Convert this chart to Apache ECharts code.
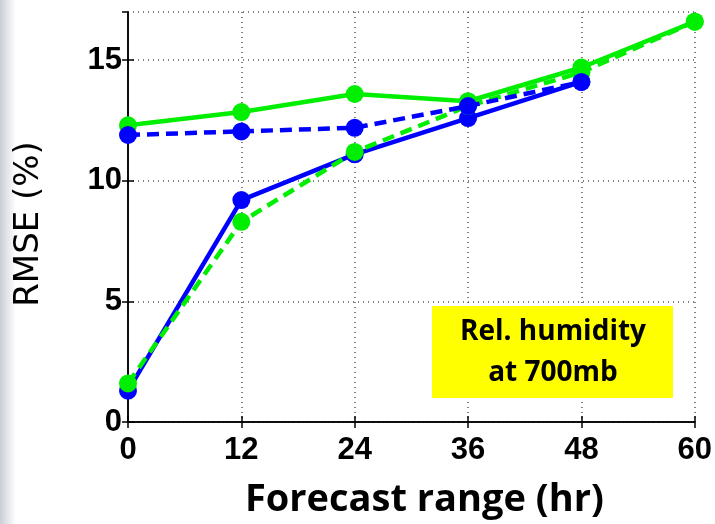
<!DOCTYPE html>
<html>
<head>
<meta charset="utf-8">
<script src="https://cdn.jsdelivr.net/npm/echarts@6/dist/echarts.min.js"></script>
<style>
html,body{margin:0;padding:0;background:#fff;}
#c{width:715px;height:524px;}
</style>
</head>
<body>
<div id="c"></div>
<script>
var hours = [0, 12, 24, 36, 48, 60];
var xTicks = ['0', '12', '24', '36', '48', '60'];
var yTicks = [0, 5, 10, 15];
var blueSolid = [1.3, 9.2, 11.1, 12.6, 14.1];
var greenDashed = [1.6, 8.3, 11.2, 13.1, 14.5, 16.6];
var greenSolid = [12.3, 12.85, 13.6, 13.3, 14.7, 16.6];
var blueDashed = [11.9, 12.05, 12.2, 13.1, 14.1];
var boxLines = ['Rel. humidity', 'at 700mb'];

function pairs(vals) {
  return vals.map(function (v, i) { return [hours[i], v]; });
}

var chart = echarts.init(document.getElementById('c'));
var tickFont = { fontFamily: 'Liberation Sans', fontWeight: 'bold', fontSize: 31, color: '#000' };

function mkSeries(name, vals, color, dashed, z) {
  return {
    name: name, type: 'line', data: pairs(vals), z: z,
    symbol: 'circle', symbolSize: 18,
    itemStyle: { color: color },
    lineStyle: { color: color, width: 4.5, type: dashed ? [12, 7] : 'solid' },
    emphasis: { disabled: true },
    animation: false
  };
}

chart.setOption({
  animation: false,
  backgroundColor: '#fff',
  graphic: [
    { type: 'rect', z: -10, shape: { x: 0, y: 0, width: 16, height: 524 },
      style: { fill: new echarts.graphic.LinearGradient(0, 0, 1, 0, [
        { offset: 0, color: '#c9ced6' }, { offset: 1, color: '#ffffff' }]) } },
    { type: 'rect', z: 100, shape: { x: 432, y: 306, width: 241, height: 92 }, style: { fill: '#ffff00' } },
    { type: 'text', z: 101, style: { x: 553, y: 353, text: boxLines.join('\n'), align: 'center', verticalAlign: 'middle',
        fontFamily: 'Open Sans', fontWeight: 'bold', fontSize: 28, lineHeight: 41, fill: '#000' } }
  ],
  grid: { left: 128, right: 20, top: 12, bottom: 101 },
  xAxis: [{
    type: 'value', min: 0, max: 60, interval: 12,
    name: 'Forecast range (hr)', nameLocation: 'middle', nameGap: 59,
    nameTextStyle: { fontFamily: 'Open Sans', fontWeight: 'bold', fontSize: 38, color: '#000', padding: [0, 0, 0, 26] },
    axisLine: { show: true, onZero: false, lineStyle: { color: '#000', width: 1.5 } },
    axisTick: { show: true, inside: true, length: 6, lineStyle: { color: '#000', width: 1.5 } },
    axisLabel: Object.assign({ margin: 13, formatter: function (v) { return xTicks[hours.indexOf(v)] || ''; } }, tickFont),
    splitLine: { show: true, lineStyle: { color: '#555', type: [1, 4], width: 1.5 } }
  }, {
    type: 'value', position: 'top', min: 0, max: 60, interval: 12,
    axisLine: { show: true, lineStyle: { color: '#000', width: 1.5 } },
    axisTick: { show: true, inside: true, length: 6, lineStyle: { color: '#000', width: 1.5 } },
    axisLabel: { show: false }, splitLine: { show: false }
  }],
  yAxis: [{
    type: 'value', min: 0, max: 17, interval: 5,
    name: 'RMSE (%)', nameLocation: 'middle', nameGap: 82, nameRotate: 90,
    nameTextStyle: { fontFamily: 'DejaVu Sans', fontSize: 34, color: '#000', padding: [0, 14, 0, 0] },
    axisLine: { show: true, onZero: false, lineStyle: { color: '#000', width: 1.5 } },
    axisTick: { show: true, inside: true, length: 6, lineStyle: { color: '#000', width: 1.5 } },
    axisLabel: Object.assign({ margin: 6, showMaxLabel: false,
      formatter: function (v) { return yTicks.indexOf(v) >= 0 ? String(v) : ''; } }, tickFont),
    splitLine: { show: true, lineStyle: { color: '#555', type: [1, 4], width: 1.5 } }
  }, {
    type: 'value', position: 'right', min: 0, max: 17, interval: 5,
    axisLine: { show: true, lineStyle: { color: '#000', width: 1.5 } },
    axisTick: { show: true, inside: true, length: 6, lineStyle: { color: '#000', width: 1.5 } },
    axisLabel: { show: false }, splitLine: { show: false }
  }],
  series: [
    mkSeries('blue solid', blueSolid, '#0000ff', false, 2),
    mkSeries('green dashed', greenDashed, '#00ee00', true, 3),
    mkSeries('green solid', greenSolid, '#00ee00', false, 4),
    mkSeries('blue dashed', blueDashed, '#0000ff', true, 5)
  ]
});
</script>
</body>
</html>
